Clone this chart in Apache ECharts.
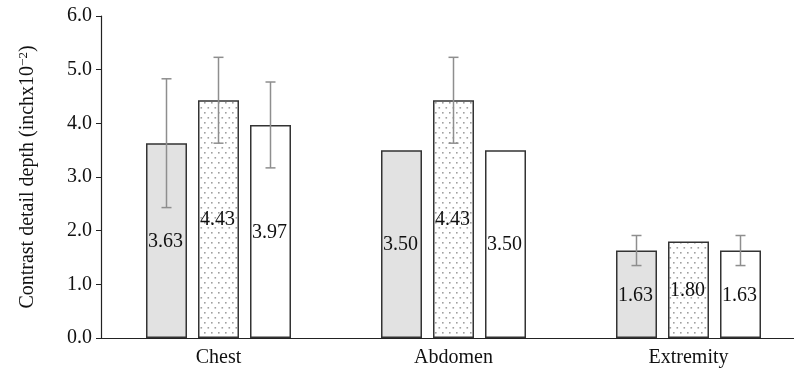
<!DOCTYPE html>
<html>
<head>
<meta charset="utf-8">
<script src="https://cdn.jsdelivr.net/npm/echarts@6/dist/echarts.min.js"></script>
<style>
  html, body { margin: 0; padding: 0; background: #fff; }
  #chart { width: 794px; height: 383px; }
</style>
</head>
<body>
<div id="chart"></div>
<script>
// data
var categories = ['Chest', 'Abdomen', 'Extremity']
var yTicks = [0, 1, 2, 3, 4, 5, 6]
var seriesA = [3.63, 3.50, 1.63]     // grey bars
var seriesB = [4.43, 4.43, 1.80]     // dotted bars
var seriesC = [3.97, 3.50, 1.63]     // white bars
var errA = [1.20, 0, 0.28]
var errB = [0.80, 0.80, 0]
var errC = [0.80, 0, 0.28]

var FONT = '"Liberation Serif", "DejaVu Serif", serif'
var BAR_W = 41
var BAR_STEP = 52

// dotted fill
function dotPattern() {
  var c = document.createElement('canvas')
  c.width = 7
  c.height = 10
  var ctx = c.getContext('2d')
  ctx.fillStyle = '#ffffff'
  ctx.fillRect(0, 0, 7, 10)
  ctx.fillStyle = '#a0a0a0'
  ctx.fillRect(1, 2, 1.6, 1.6)
  ctx.fillRect(4.5, 7, 1.6, 1.6)
  return c
}

function barSeries(name, data, fill) {
  return {
    name: name,
    type: 'bar',
    barWidth: BAR_W,
    barGap: ((BAR_STEP - BAR_W) / BAR_W * 100) + '%',
    data: data,
    itemStyle: { color: fill, borderColor: '#333', borderWidth: 1.5 },
    label: {
      show: true,
      position: 'inside',
      offset: [-1, 1],
      color: '#111',
      fontFamily: FONT,
      fontSize: 20,
      formatter: function (p) { return p.value.toFixed(2) }
    },
    z: 2
  }
}

function errSeries(values, errs, offset) {
  var d = values.map(function (v, i) { return [i, v, errs[i]] })
  return {
    type: 'custom',
    z: 5,
    silent: true,
    data: d,
    renderItem: function (params, api) {
      var e = api.value(2)
      if (!e) return
      var x = api.value(0), v = api.value(1)
      var hi = api.coord([x, v + e])
      var lo = api.coord([x, v - e])
      var cx = hi[0] + offset
      var cap = 5
      var st = { stroke: '#8e8e8e', lineWidth: 1.5 }
      return {
        type: 'group',
        children: [
          { type: 'line', shape: { x1: cx, y1: hi[1], x2: cx, y2: lo[1] }, style: st },
          { type: 'line', shape: { x1: cx - cap, y1: hi[1], x2: cx + cap, y2: hi[1] }, style: st },
          { type: 'line', shape: { x1: cx - cap, y1: lo[1], x2: cx + cap, y2: lo[1] }, style: st }
        ]
      }
    }
  }
}

var chart = echarts.init(document.getElementById('chart'))
chart.setOption({
  animation: false,
  backgroundColor: '#fff',
  grid: { left: 101, top: 16, bottom: 45, right: -12, outerBoundsMode: 'none' },
  xAxis: {
    type: 'category',
    data: categories,
    axisLine: { lineStyle: { color: '#222', width: 1.2 } },
    axisTick: { alignWithLabel: true, length: 5, lineStyle: { color: '#222' } },
    axisLabel: { color: '#111', fontFamily: FONT, fontSize: 20, margin: 10 },
    splitLine: { show: false }
  },
  yAxis: {
    type: 'value',
    min: yTicks[0],
    max: yTicks[yTicks.length - 1],
    interval: 1,
    name: 'Contrast detail depth (inchx10{sup|−2})',
    nameLocation: 'middle',
    nameGap: 62,
    nameRotate: 90,
    nameTextStyle: {
      color: '#111', fontFamily: FONT, fontSize: 20,
      rich: { sup: { fontFamily: FONT, fontSize: 13, verticalAlign: 'top', padding: [0, 0, 9, 0], color: '#111' } }
    },
    axisLine: { show: true, lineStyle: { color: '#222', width: 1.2 } },
    axisTick: { show: true, length: 5, lineStyle: { color: '#222' } },
    axisLabel: {
      color: '#111', fontFamily: FONT, fontSize: 20, margin: 9,
      formatter: function (v) { return v.toFixed(1) }
    },
    splitLine: { show: false }
  },
  series: [
    barSeries('A', seriesA, '#e2e2e2'),
    barSeries('B', seriesB, { image: dotPattern(), repeat: 'repeat' }),
    barSeries('C', seriesC, '#ffffff'),
    errSeries(seriesA, errA, -BAR_STEP),
    errSeries(seriesB, errB, 0),
    errSeries(seriesC, errC, BAR_STEP)
  ]
})
</script>
</body>
</html>
